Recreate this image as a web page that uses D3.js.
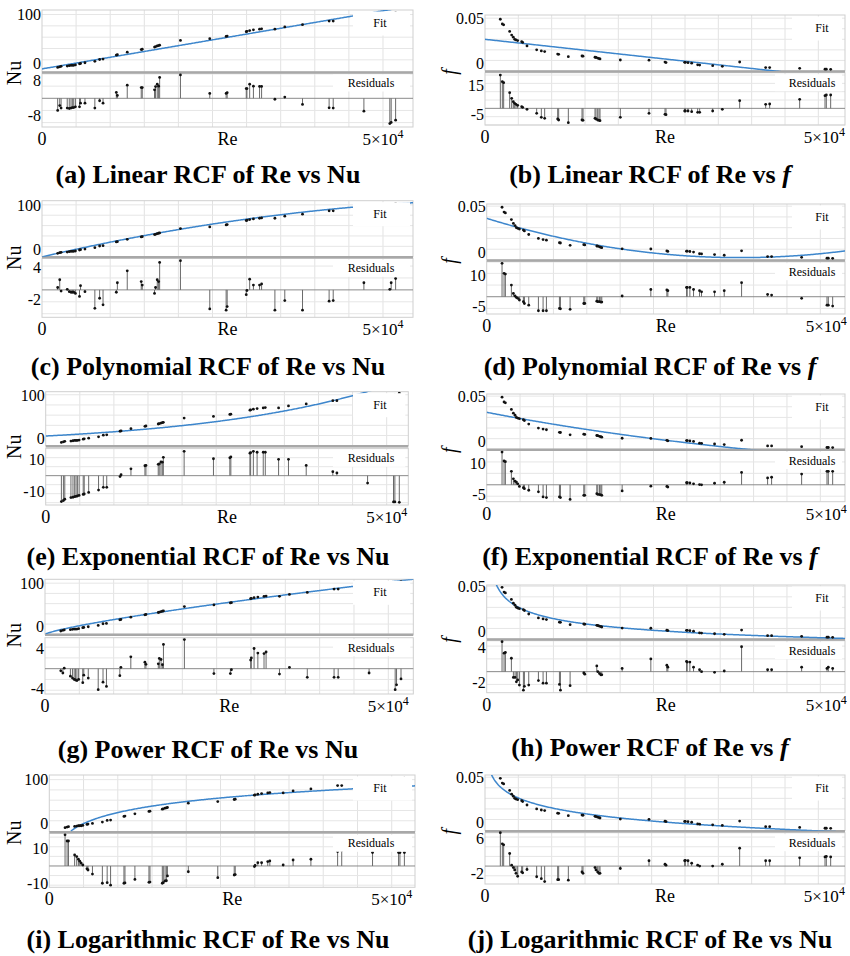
<!DOCTYPE html>
<html>
<head>
<meta charset="utf-8">
<script src="https://cdn.jsdelivr.net/npm/d3@7"></script>
<style>
  body { margin: 0; background: #fff; }
  text { font-family: "Liberation Serif", "Times New Roman", serif; }
</style>
</head>
<body>
<svg id="fig"></svg>
<script>
// Reynolds numbers of the measured points (shared by all panels)
var re = [2300, 2600, 2800, 3700, 4000, 4250, 4450, 4650, 4900, 5500, 5650, 6300, 7750, 8450, 8950,
    10900, 11050, 12500, 14550, 14700, 16500, 16650, 16900, 17100, 17250, 20300, 24600, 27000, 27150,
    29950, 30050, 30450, 31000, 31900, 32200, 34150, 35600, 38200, 42100, 42700, 47200, 51000, 51200, 51850];

// Nusselt number and friction factor
var nu = [6.5, 7.7, 8.5, 9.0, 9.7, 10.3, 10.3, 10.3, 11.0, 12.9, 13.5, 14.8, 17.4, 20.6, 21.3,
    28.4, 29.0, 33.5, 38.1, 38.7, 42.6, 43.2, 44.5, 45.2, 45.8, 54.2, 57.4, 61.3, 61.9,
    69.7, 70.3, 71.6, 72.9, 74.2, 74.8, 74.2, 78.1, 82.0, 88.4, 88.4, 94, 97, 99, 103];
var ff = [0.049, 0.0445, 0.0437, 0.0375, 0.034, 0.032, 0.030, 0.0294, 0.0288, 0.0278, 0.027, 0.0237, 0.020, 0.019, 0.0184,
    0.016, 0.0158, 0.0136, 0.0142, 0.0140, 0.013, 0.0128, 0.0122, 0.0118, 0.0114, 0.0104, 0.0102, 0.0084, 0.0080,
    0.0082, 0.0082, 0.0079, 0.0074, 0.0058, 0.0056, 0.0050, 0.0044, 0.0085, 0.0032, 0.0032, 0.0025, 0.0017, 0.0017, 0.0016];

// residuals as shown in each lower panel (f residuals in units of 1e-3)
var resA = [-5, -3, -4, -4, -4.2, -4, -3.8, -3.8, -3.5, -3.5, -2, -2, -4, -1, -2, 2.4, 1.2, 5.4, 4.4, 4.4, 3.5, 4.8,
    5.8, 5, 8.6, 9.6, 2, 2, 2.3, 4, 4, 5.8, 5, 4.9, 4.9, -0.4, 0.5, -2.5, -3.9, -4, -5.3, -10.4, -9.9, -9];
var resB = [20, 16, 15.4, 9.4, 6, 4, 3, 2.4, 1.8, 1, 0.6, -0.6, -3, -5.4, -6, -6.4, -7, -8.6, -7, -7.2, -6, -6.4,
    -7, -7.2, -7.4, -5.4, -3, -3.6, -3.8, -1.6, -1.6, -1.6, -2, -2.4, -2.4, -1.6, -0.6, 4.6, 2.4, 2.6, 5.4, 7.6, 8, 8];
var resC = [0.4, 1.7, -0.2, 0.1, -0.3, -0.4, -0.4, -0.4, -0.6, -1.1, 0.7, -0.3, -3.1, -1.4, -2.5, -0.4, 1.2, 3.2,
    1.4, 0.8, -0.6, 0.4, 1.7, 1.4, 4.6, 4.9, -3.2, -3.4, -2.8, -0.8, -0.1, 1.8, 0.8, 0.8, 1.0, -3.4, -1.8, -3.4,
    -1.9, -1.8, 1.2, 0.1, 1.2, 1.9];
var resD = [14.3, 10, 9.7, 5, 1.4, 0.3, -0.3, -0.7, -1.4, -2.1, -2.9, -3.6, -6, -6, -6, -5, -5.2, -5.4, -2.9, -2.9,
    -1.9, -2.1, -2.1, -2.3, -2.3, 0.3, 3.1, 2.9, 2.6, 4, 4, 4, 3.1, 2.6, 2.1, 2.1, 2.6, 6, 1, 0.7, -0.7, -3.6, -3.6, -4];
var resE = [-14.4, -13.8, -13.1, -12.2, -12, -11.7, -11.5, -11.3, -11, -10.4, -10.2, -9.3, -8, -6.5, -6.5, -0.5, 0.5,
    3.8, 5.5, 5.7, 6.3, 6.5, 7.6, 7.5, 10.2, 13.5, 9.4, 9.9, 10.4, 12.5, 12.8, 13.5, 13, 13, 13, 9.1, 9.1, 5.7, 2.2,
    1.5, -4.1, -14.6, -14.6, -14.8];
var resF = [14.3, 10.4, 10.1, 5.9, 2.6, 1.6, 1.2, 0.4, -0.7, -1.3, -1.7, -2.4, -3.1, -5.3, -5.6, -5.3, -5.6, -6.4,
    -4.6, -4.6, -3.9, -4.2, -4.3, -4.4, -4.6, -2.7, -0.6, -0.7, -1, 0.9, 0.9, 0.8, 0.4, 0.1, 0, 0.7, 1.1, 5.4, 3, 3.3,
    4.7, 5.9, 5.9, 5.9];
var resG = [-0.4, -0.8, 0.1, -1.4, -1.75, -2, -2.1, -2.2, -2, -2.6, -1.2, -1.75, -3.9, -2.5, -3.3, -1.3, 0.25, 2.2,
    1.2, 0.8, 0.9, 1.9, 1.7, 0.75, 4.5, 5.4, -0.9, -0.9, -0.2, 1.6, 2, 3.75, 2.9, 2.8, 3.1, -1, 0.25, -1.6, -1.6,
    -1.6, -0.8, -3.9, -3, -1.9];
var resH = [4.7, 2.9, 3, 2.1, -0.9, -0.9, -1.6, -1.3, -2.1, -2.9, -2.3, -2.1, -1.4, -1.8, -1.8, -2, -2.9, -2.2, -0.2,
    -0.4, 0.9, 0, -0.3, -0.5, -0.5, 0.5, 2, 1, 0.7, 1.6, 1.5, 1.5, 0.7, 0.3, 0, -0.1, 0.1, 3.9, 0.3, 0.3, 0.7, 0.5,
    0.7, 0.5];
var resI = [16.2, 13, 13, 5.7, 4.9, 3.5, 2.5, 1.5, 0.5, -1.5, -2.1, -4.2, -9, -8.7, -10, -9, -8.8, -7, -8.5, -8.4,
    -9, -8.7, -7.8, -7.7, -5.2, -3, -6.1, -4.7, -4.5, -0.3, 0.3, 1.7, 1.7, 2.3, 2.6, 0.5, 3.1, 3.5, 7.5, 8, 7, 7, 7, 7];
var resJ = [6.9, 4.6, 4.4, 2.6, 0.2, -0.3, -0.8, -1.5, -2.1, -1.2, -1.4, -0.7, -2.2, -2.6, -3.2, -2.8, -2.8, -2.9,
    -1.2, -1.5, -0.3, -0.8, -1.2, -1.5, -1.5, -0.5, 1.1, 0.4, 0.2, 1.1, 1.2, 1.1, 0.6, 0.2, 0, 0, 0.4, 3.7, 1.1, 1.1,
    1.7, 1.9, 2, 1.9];

// fitted model coefficients
var fitA = [4, 0.00205];                       // Nu = a + b Re
var fitB = [0.030, -6.9e-7];                   // f = a + b Re
var fitC = [-0.41, 3.054e-3, -2.083e-8];       // Nu = a + b Re + c Re^2
var fitD = [0.0387, -1.921e-6, 2.528e-11];     // f = a + b Re + c Re^2
var fitE = [19, 3.65e-5, 0];                   // Nu = a exp(b Re) + c
var fitF = [0.0718, -1.7e-5, -0.037];          // f = a exp(b Re) + c
var fitG = [0.02067, 0.786, 0];                // Nu = a Re^b + c
var fitH = [0.4606, -0.22, -0.0414];           // f = a Re^b + c
var fitI = [-249.6, 31];                       // Nu = a + b ln(Re)
var fitJ = [0.1455, -0.01352];                 // f = a + b ln(Re)

var captions = ['(a) Linear RCF of Re vs Nu', '(b) Linear RCF of Re vs ', '(c) Polynomial RCF of Re vs Nu',
    '(d) Polynomial RCF of Re vs ', '(e) Exponential RCF of Re vs Nu', '(f) Exponential RCF of Re vs ',
    '(g) Power RCF of Re vs Nu', '(h) Power RCF of Re vs ', '(i) Logarithmic RCF of Re vs Nu',
    '(j) Logarithmic RCF of Re vs Nu'];

var panels = [
    {y: nu, res: resA, model: 'lin', c: fitA, start: 0, x0: 42, x1: 413, reMax: 54400, fitTop: 10, fitBot: 72, resTop: 73, resBot: 127, fitDom: [-1.5, 108], resDom: [-11.8, 10.4], resTicks: [8, -8], cap: 183},
    {y: ff, res: resB, model: 'lin', c: fitB, start: 0, x0: 485, x1: 845, reMax: 54000, fitTop: 15, fitBot: 71, resTop: 72.7, resBot: 125, fitDom: [0, 0.053], resDom: [-10, 21.4], resTicks: [15, -5], cap: 183},
    {y: nu, res: resC, model: 'poly', c: fitC, start: 0, x0: 42, x1: 413, reMax: 54400, fitTop: 200.7, fitBot: 256.7, resTop: 258.3, resBot: 317.3, fitDom: [0, 108], resDom: [-4.6, 5.3], resTicks: [4, -2], cap: 375},
    {y: ff, res: resD, model: 'poly', c: fitD, start: 0, x0: 486.7, x1: 845, reMax: 53700, fitTop: 204, fitBot: 260, resTop: 261.7, resBot: 314, fitDom: [0, 0.052], resDom: [-7.4, 15], resTicks: [10, -5], cap: 375},
    {y: nu, res: resE, model: 'exp', c: fitE, start: 0, x0: 45.7, x1: 408.3, reMax: 53170, fitTop: 391.7, fitBot: 445.7, resTop: 448.3, resBot: 505, fitDom: [0, 106], resDom: [-16.3, 15.2], resTicks: [10, -10], cap: 565},
    {y: ff, res: resF, model: 'exp', c: fitF, start: 0, x0: 486.7, x1: 845, reMax: 53700, fitTop: 394, fitBot: 449.3, resTop: 450.5, resBot: 501.7, fitDom: [0, 0.052], resDom: [-7.4, 15], resTicks: [10, -5], cap: 565},
    {y: nu, res: resG, model: 'pow', c: fitG, start: 100, x0: 45, x1: 413.3, reMax: 53640, fitTop: 579.3, fitBot: 634.3, resTop: 637.7, resBot: 694, fitDom: [0, 107.6], resDom: [-4.7, 5.75], resTicks: [4, -4], cap: 758},
    {y: ff, res: resH, model: 'pow', c: fitH, start: 1000, x0: 486.7, x1: 845, reMax: 53700, fitTop: 585, fitBot: 639, resTop: 640.7, resBot: 692.7, fitDom: [0, 0.0512], resDom: [-3.3, 4.85], resTicks: [4, -2], cap: 756},
    {y: nu, res: resI, model: 'log', c: fitI, start: 3150, x0: 49.3, x1: 415, reMax: 53400, fitTop: 775, fitBot: 831.7, resTop: 833.3, resBot: 887.3, fitDom: [-1.3, 109], resDom: [-11.1, 17], resTicks: [10, -10], cap: 948},
    {y: ff, res: resJ, model: 'log', c: fitJ, start: 800, x0: 485, x1: 845, reMax: 54000, fitTop: 775, fitBot: 830.7, resTop: 832.7, resBot: 884, fitDom: [-0.0006, 0.0521], resDom: [-3.7, 6.9], resTicks: [6, -2], cap: 948}
];

function model(type, c, r) {
    if (type === 'lin') return c[0] + c[1] * r;
    if (type === 'poly') return c[0] + c[1] * r + c[2] * r * r;
    if (type === 'exp') return c[0] * Math.exp(c[1] * r) + c[2];
    if (type === 'pow') return c[0] * Math.pow(r, c[1]) + c[2];
    return c[0] + c[1] * Math.log(r);
}

var svg = d3.select('#fig').attr('width', 850).attr('height', 956);
var blue = '#3d86cc';

panels.forEach(function (p, i) {
    var isF = (i % 2 === 1);
    var g = svg.append('g');
    var x = d3.scaleLinear().domain([0, p.reMax]).range([p.x0, p.x1]);
    var yF = d3.scaleLinear().domain(p.fitDom).range([p.fitBot, p.fitTop]);
    var yR = d3.scaleLinear().domain(p.resDom).range([p.resBot, p.resTop]);

    // clip area of the fit panel
    g.append('defs').append('clipPath').attr('id', 'cf' + i).append('rect')
        .attr('x', p.x0).attr('y', p.fitTop).attr('width', p.x1 - p.x0).attr('height', p.fitBot - p.fitTop);

    // vertical grid
    var xg = d3.range(5000, p.reMax, 5000);
    [[p.fitTop, p.fitBot], [p.resTop, p.resBot]].forEach(function (r) {
        g.selectAll(null).data(xg).enter().append('line')
            .attr('x1', function (d) { return x(d); }).attr('x2', function (d) { return x(d); })
            .attr('y1', r[0]).attr('y2', r[1])
            .attr('stroke', '#e2e2e2').attr('stroke-width', 1);
    });
    // horizontal grid
    var hg = isF ? [0.01, 0.02, 0.03, 0.04, 0.05] : [20, 40, 60, 80, 100];
    g.selectAll(null).data(hg.filter(function (d) { return d < p.fitDom[1]; })).enter().append('line')
        .attr('x1', p.x0).attr('x2', p.x1)
        .attr('y1', function (d) { return yF(d); }).attr('y2', function (d) { return yF(d); })
        .attr('stroke', '#e6e6e6');
    g.selectAll(null).data(yR.ticks(5).filter(function (d) { return d !== 0; })).enter().append('line')
        .attr('x1', p.x0).attr('x2', p.x1)
        .attr('y1', function (d) { return yR(d); }).attr('y2', function (d) { return yR(d); })
        .attr('stroke', '#e6e6e6');

    // frames
    g.append('rect').attr('x', p.x0).attr('y', p.fitTop).attr('width', p.x1 - p.x0).attr('height', p.fitBot - p.fitTop)
        .attr('fill', 'none').attr('stroke', '#cfcfcf');
    g.append('rect').attr('x', p.x0).attr('y', p.resTop).attr('width', p.x1 - p.x0).attr('height', p.resBot - p.resTop)
        .attr('fill', 'none').attr('stroke', '#cfcfcf');
    g.append('line').attr('x1', p.x0).attr('x2', p.x1).attr('y1', p.fitBot + 0.5).attr('y2', p.fitBot + 0.5)
        .attr('stroke', '#a8a8a8').attr('stroke-width', 2.5);

    // fitted curve
    var rs = d3.range(p.start, p.reMax + 200, 150);
    var line = d3.line()
        .x(function (r) { return x(r); })
        .y(function (r) { return yF(model(p.model, p.c, r)); });
    g.append('path').datum(rs).attr('d', line)
        .attr('fill', 'none').attr('stroke', blue).attr('stroke-width', 1.5)
        .attr('clip-path', 'url(#cf' + i + ')');

    // data points
    g.selectAll(null).data(re).enter().append('circle')
        .attr('cx', function (d) { return x(d); })
        .attr('cy', function (d, k) { return yF(p.y[k]); })
        .attr('r', 1.4).attr('fill', '#111')
        .attr('clip-path', 'url(#cf' + i + ')');

    // residual zero line, stems, markers
    g.append('line').attr('x1', p.x0).attr('x2', p.x1).attr('y1', yR(0)).attr('y2', yR(0))
        .attr('stroke', '#8a8a8a');
    g.selectAll(null).data(re).enter().append('line')
        .attr('x1', function (d) { return x(d); }).attr('x2', function (d) { return x(d); })
        .attr('y1', yR(0)).attr('y2', function (d, k) { return yR(p.res[k]); })
        .attr('stroke', '#6a6a6a').attr('stroke-width', 1);
    g.selectAll(null).data(re).enter().append('circle')
        .attr('cx', function (d) { return x(d); })
        .attr('cy', function (d, k) { return yR(p.res[k]); })
        .attr('r', 1.4).attr('fill', '#111');

    // legend boxes
    var lx = isF ? 792 : 353;
    var rx = isF ? 775 : 333;
    g.append('rect').attr('x', lx).attr('y', p.fitTop + 1.5).attr('width', p.x1 - 3 - lx).attr('height', 24).attr('fill', '#fff');
    g.append('text').attr('x', isF ? 822 : 380).attr('y', p.fitTop + 17).attr('text-anchor', 'middle')
        .attr('font-size', 12).text('Fit');
    g.append('rect').attr('x', rx).attr('y', p.resTop + 1.5).attr('width', p.x1 - 3 - rx).attr('height', 17).attr('fill', '#fff');
    g.append('text').attr('x', isF ? 812 : 371).attr('y', p.resTop + 14).attr('text-anchor', 'middle')
        .attr('font-size', 12).text('Residuals');

    // y tick labels
    var fTicks = isF ? [0.05, 0] : [100, 0];
    g.selectAll(null).data(fTicks).enter().append('text')
        .attr('x', p.x0 - 1).attr('y', function (d) { return d === 0 ? yF(d) - 2 : yF(d); })
        .attr('dy', function (d) { return d === 0 ? '0' : '0.36em'; })
        .attr('text-anchor', 'end').attr('font-size', 16)
        .text(function (d) { return d === 0 ? '0' : (isF ? '0.05' : '100'); });
    g.selectAll(null).data(p.resTicks).enter().append('text')
        .attr('x', p.x0 - 1).attr('y', function (d) { return yR(d); })
        .attr('dy', function (d) { return d > 0 ? '0.45em' : '0.22em'; })
        .attr('text-anchor', 'end').attr('font-size', 16)
        .text(function (d) { return d < 0 ? '-' + Math.abs(d) : d; });

    // y axis label
    var ylab = g.append('text')
        .attr('transform', 'translate(' + (isF ? 456 : 21) + ',' + (p.fitBot + 1) + ') rotate(-90)')
        .attr('text-anchor', 'middle').attr('font-size', 20);
    if (isF) ylab.attr('font-style', 'italic').text('f');
    else ylab.text('Nu');

    // x axis labels
    var xb = p.resBot + 18;
    g.append('text').attr('x', x(0)).attr('y', xb).attr('text-anchor', 'middle').attr('font-size', 18).text('0');
    g.append('text').attr('x', (p.x0 + p.x1) / 2).attr('y', xb).attr('text-anchor', 'middle').attr('font-size', 18).text('Re');
    var xl = g.append('text').attr('x', x(50000) + (isF ? 6 : 0)).attr('y', xb).attr('text-anchor', 'middle').attr('font-size', 17);
    xl.append('tspan').text('5\u00d710');
    xl.append('tspan').attr('font-size', 12).attr('dy', -7).text('4');

    // caption
    var cap = g.append('text').attr('x', isF ? 650 : 208).attr('y', p.cap)
        .attr('text-anchor', 'middle').attr('font-size', 26).attr('font-weight', 'bold');
    cap.append('tspan').text(captions[i]);
    if (isF && i !== 9) cap.append('tspan').attr('font-style', 'italic').text('f');
});
</script>
</body>
</html>
